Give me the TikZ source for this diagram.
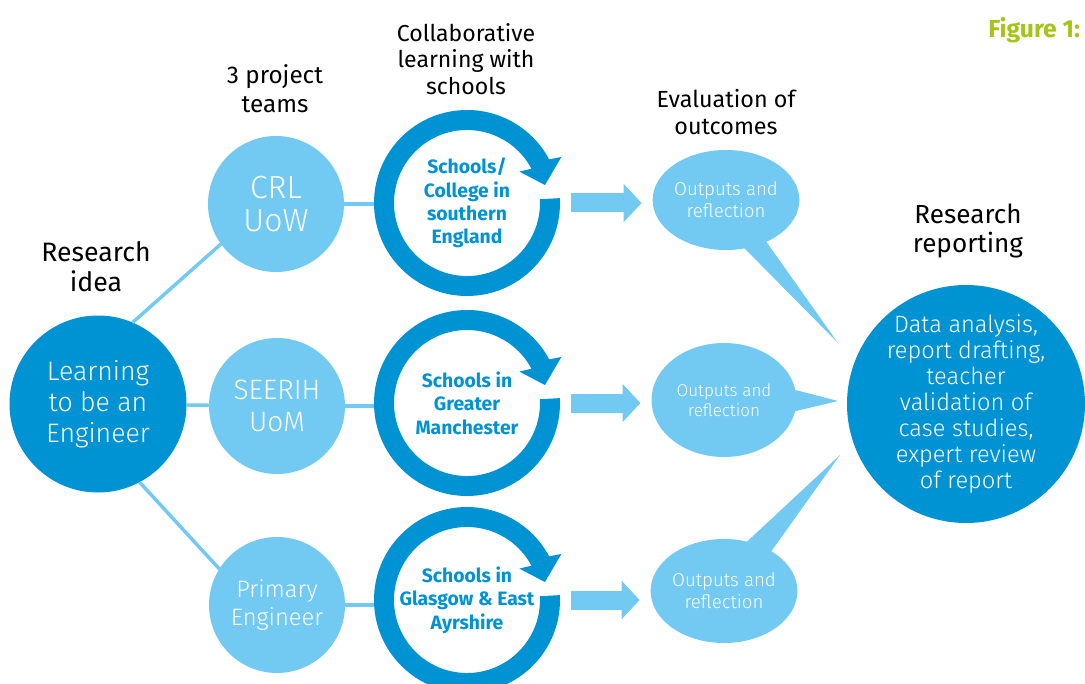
\documentclass[tikz,border=0pt]{standalone}
\usepackage{fontspec}
\setmainfont{Fira Sans}
\IfFontExistsTF{Fira Sans Light}
  {\newfontfamily\lightfont{Fira Sans Light}}
  {\newfontfamily\lightfont{Fira Sans}}
\usetikzlibrary{shapes.geometric,arrows.meta}
\definecolor{dblue}{RGB}{0,147,211}
\definecolor{lblue}{RGB}{114,201,242}
\definecolor{figgreen}{RGB}{166,196,22}

\begin{document}
\begin{tikzpicture}[x=0.75pt,y=0.75pt,inner sep=0pt,outer sep=0pt,
heading/.style={align=center,text=black},
bigdot/.style={circle,fill=dblue,text=white,align=center},
team/.style={circle,fill=lblue,text=white,align=center,minimum size=102pt},
ringtext/.style={circle,minimum size=139.5pt,text=dblue,align=center,font=\bfseries\fontsize{14.5}{17.6}\selectfont},
bubble/.style={ellipse,fill=lblue,text=white,align=center,minimum width=108.75pt},
link/.style={draw=lblue,line width=2.6pt},
fatarrow/.style={draw=lblue,line width=14.25pt,-{Triangle[length=13.5pt,width=28pt]},shorten <=8.25pt,shorten >=8.25pt}]

\useasboundingbox (0,0) rectangle (1085,-684);

% headings
\node[heading,font=\fontsize{20}{22.5}\selectfont] (hidea) at (96,-267) {Research\\idea};
\node[heading,font=\fontsize{18.2}{22}\selectfont] (hteams) at (275,-89) {3 project\\teams};
\node[heading,font=\fontsize{17.3}{20}\selectfont] (hcollab) at (466,-59) {Collaborative\\learning with\\schools};
\node[heading,font=\fontsize{17.5}{20.5}\selectfont] (heval) at (726,-112) {Evaluation of\\outcomes};
\node[heading,font=\fontsize{19.6}{22}\selectfont] (hreport) at (968,-231) {Research\\reporting};
\node[text=figgreen,font=\bfseries\fontsize{18.5}{20}\selectfont,anchor=east] (fig) at (1080,-30) {Figure 1:};

% research idea and teams
\node[bigdot,minimum size=132.75pt,font=\lightfont\fontsize{20}{23.25}\selectfont] (idea) at (98,-404) {Learning\\to be an\\Engineer};
\node[team,font=\lightfont\fontsize{24}{24.75}\selectfont] (crl) at (276,-204) {CRL\\UoW};
\node[team,font=\lightfont\fontsize{21}{24}\selectfont] (seerih) at (277,-406) {SEERIH\\UoM};
\node[team,font=\lightfont\fontsize{17.8}{21}\selectfont] (prim) at (277,-605) {Primary\\Engineer};

% schools
\node[ringtext] (ring1) at (467,-203) {Schools/\\College in\\southern\\England};
\node[ringtext] (ring2) at (467,-403) {Schools in\\Greater\\Manchester};
\node[ringtext] (ring3) at (467,-600) {Schools in\\Glasgow \& East\\Ayrshire};

% outcomes
\node[bubble,minimum height=75pt,font=\lightfont\fontsize{14}{16.5}\selectfont] (out1) at (726,-200) {Outputs and\\reflection};
\node[bubble,minimum height=85.5pt,font=\lightfont\fontsize{12.8}{15}\selectfont] (out2) at (724,-400) {Outputs and\\reflection};
\node[bubble,minimum height=78pt,font=\lightfont\fontsize{14}{16.5}\selectfont] (out3) at (724,-591) {Outputs and\\reflection};

% reporting
\node[bigdot,minimum size=178.5pt,inner sep=-8pt,font=\lightfont\fontsize{17.7}{19.5}\selectfont] (report) at (966,-404) {Data analysis,\\report drafting,\\teacher\\validation of\\case studies,\\expert review\\of report};

\coordinate (tip1) at (838,-343);
\coordinate (tip2) at (838,-401);
\coordinate (tip3) at (840,-455);

% links
\draw[link] (idea.67) -- (crl.216);
\draw[link] (idea) -- (seerih);
\draw[link] (idea.-62) -- (prim.148);
\draw[link] (crl) -- (crl -| ring1.west);
\draw[link] (seerih) -- (seerih -| ring2.west);
\draw[link] (prim) -- (prim -| ring3.west);

% cycle rings
\foreach \r in {ring1,ring2,ring3}
  \fill[dblue] ([shift={(3:93)}]\r.center) arc[start angle=3,end angle=-332,radius=93]
    -- ([shift={(26:105)}]\r.center) -- ([shift={(13:80)}]\r.center)
    -- ([shift={(31:61)}]\r.center) -- ([shift={(28:73)}]\r.center)
    arc[start angle=-332,end angle=3,radius=73] -- cycle;

% arrows to outcomes
\draw[fatarrow] (ring1.east) -- (ring1.east -| out1.west);
\draw[fatarrow] (ring2.east) -- (ring2.east -| out2.west);
\draw[fatarrow] (ring3.east) -- (ring3.east -| out3.west);

% bubble tails
\fill[lblue] (out1.-69) -- (tip1) -- (out1.-46) -- cycle;
\fill[lblue] (out2.8) -- (tip2) -- (out2.-9) -- cycle;
\fill[lblue] (out3.65) -- (tip3) -- (out3.40) -- cycle;
\end{tikzpicture}
\end{document}
